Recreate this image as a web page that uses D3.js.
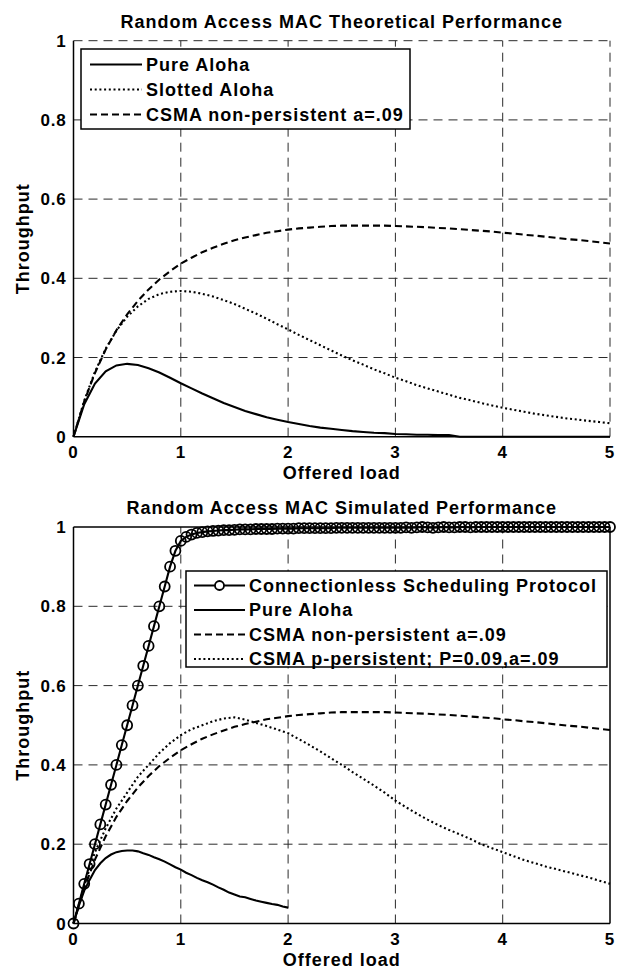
<!DOCTYPE html>
<html>
<head>
<meta charset="utf-8">
<script src="https://cdn.jsdelivr.net/npm/d3@7"></script>
<style>
  body { margin: 0; background: #fff; }
  text { font-family: "Liberation Sans", Arial, sans-serif; font-weight: bold; fill: #000; }
</style>
</head>
<body>
<script>
// ---- data ----
var loadStep10 = [0,0.1,0.2,0.3,0.4,0.5,0.6,0.7,0.8,0.9,1.0,1.1,1.2,1.3,1.4,1.5,1.6,1.7,1.8,1.9,2.0,
  2.1,2.2,2.3,2.4,2.5,2.6,2.7,2.8,2.9,3.0,3.1,3.2,3.3,3.4,3.5,3.6,3.7,3.8,3.9,4.0,
  4.1,4.2,4.3,4.4,4.5,4.6,4.7,4.8,4.9,5.0];

var pureAlohaTheory = [0,0.082,0.134,0.165,0.180,0.184,0.181,0.173,0.162,0.149,0.135,0.122,0.109,0.097,0.085,0.075,
  0.065,0.057,0.049,0.043,0.037,0.032,0.027,0.023,0.020,0.017,0.014,0.012,0.010,0.009,0.007,
  0.006,0.005,0.005,0.004,0.004,0,0,0,0,0,0,0,0,0,0,0,0,0,0,0];

var slottedAloha = [0,0.091,0.164,0.222,0.268,0.303,0.329,0.348,0.360,0.366,0.368,0.366,0.361,0.354,0.345,0.335,
  0.323,0.311,0.298,0.284,0.271,0.257,0.244,0.231,0.218,0.205,0.193,0.182,0.170,0.160,0.149,
  0.140,0.130,0.122,0.114,0.106,0.098,0.092,0.085,0.079,0.073,0.068,0.063,0.058,0.054,0.050,
  0.046,0.043,0.040,0.037,0.034];

var csmaNonPersistent = [0,0.089,0.161,0.220,0.269,0.309,0.343,0.372,0.397,0.418,0.437,0.452,0.466,0.477,0.487,0.496,
  0.503,0.509,0.515,0.519,0.523,0.526,0.528,0.530,0.532,0.533,0.533,0.533,0.533,0.533,0.532,
  0.531,0.530,0.529,0.527,0.526,0.524,0.522,0.520,0.518,0.515,0.513,0.510,0.508,0.505,0.502,
  0.499,0.497,0.494,0.491,0.488];

var csmaPPersistent = [0,0.095,0.180,0.240,0.290,0.330,0.370,0.400,0.430,0.455,0.475,0.490,0.500,0.510,0.517,0.520,
  0.514,0.506,0.498,0.489,0.480,0.465,0.450,0.434,0.417,0.400,0.382,0.365,0.348,0.330,0.310,
  0.293,0.277,0.262,0.248,0.236,0.225,0.213,0.200,0.190,0.180,0.170,0.160,0.152,0.144,0.137,
  0.130,0.123,0.116,0.108,0.100];

var loadStep05 = [0,0.05,0.1,0.15,0.2,0.25,0.3,0.35,0.4,0.45,0.5,0.55,0.6,0.65,0.7,0.75,0.8,0.85,0.9,0.95,
  1.0,1.05,1.1,1.15,1.2,1.25,1.3,1.35,1.4,1.45,1.5,1.55,1.6,1.65,1.7,1.75,1.8,1.85,1.9,1.95,
  2.0,2.05,2.1,2.15,2.2,2.25,2.3,2.35,2.4,2.45,2.5,2.55,2.6,2.65,2.7,2.75,2.8,2.85,2.9,2.95,
  3.0,3.05,3.1,3.15,3.2,3.25,3.3,3.35,3.4,3.45,3.5,3.55,3.6,3.65,3.7,3.75,3.8,3.85,3.9,3.95,
  4.0,4.05,4.1,4.15,4.2,4.25,4.3,4.35,4.4,4.45,4.5,4.55,4.6,4.65,4.7,4.75,4.8,4.85,4.9,4.95,5.0];

var cspThroughput = [0,0.05,0.1,0.15,0.2,0.25,0.3,0.35,0.4,0.45,0.5,0.55,0.6,0.65,0.7,0.75,0.8,0.85,0.9,0.94,
  0.965,0.975,0.981,0.985,0.987,0.989,0.990,0.991,0.992,0.992,0.993,0.994,0.994,0.994,0.995,0.995,0.995,0.995,0.996,0.996,
  0.996,0.996,0.997,0.997,0.997,0.997,0.997,0.997,0.997,0.998,0.998,0.998,0.998,0.998,0.998,0.998,0.998,0.998,0.998,0.998,
  0.998,0.998,0.999,0.998,0.999,1.0,0.999,0.998,0.999,1.0,0.999,0.999,1.0,1.0,0.999,1.0,1.0,1.0,1.0,1.0,
  1.0,1.0,1.0,1.0,1.0,1.0,1.0,1.0,1.0,1.0,1.0,1.0,1.0,1.0,1.0,1.0,1.0,1.0,1.0,1.0,1.0];

var loadAlohaSim = loadStep05.slice(0, 41);
var pureAlohaSim = [0,0.045,0.083,0.110,0.135,0.152,0.165,0.174,0.180,0.183,0.184,0.184,0.182,0.177,0.173,0.167,
  0.162,0.156,0.149,0.142,0.136,0.128,0.122,0.115,0.109,0.104,0.098,0.091,0.085,0.078,0.073,
  0.068,0.066,0.062,0.058,0.055,0.052,0.049,0.047,0.043,0.040];

var xTicks = [0,1,2,3,4,5];
var yTicks = [0,0.2,0.4,0.6,0.8,1];
var xLabel = "Offered load";
var yLabel = "Throughput";

// ---- layout ----
var svgWidth = 617, svgHeight = 969;
var plotLeft = 73.5, plotRight = 610;

var svg = d3.select("body").append("svg")
  .attr("width", svgWidth).attr("height", svgHeight);

var x = d3.scaleLinear().domain([0, 5]).range([plotLeft, plotRight]);

var styles = {
  solid:  { dash: null },
  dashed: { dash: "7,4" },
  dotted: { dash: "2,2.7" }
};

function drawPanel(p) {
  var y = d3.scaleLinear().domain([0, 1]).range([p.bottom, p.top]);
  var g = svg.append("g");

  // dashed grid (top panel has no box, so its grid closes the frame)
  var vx = p.box ? [1, 2, 3, 4] : [1, 2, 3, 4, 5];
  var hy = p.box ? [0.2, 0.4, 0.6, 0.8] : [0.2, 0.4, 0.6, 0.8, 1];
  g.selectAll(".vg").data(vx).enter().append("line")
    .attr("x1", d => x(d)).attr("x2", d => x(d))
    .attr("y1", p.bottom).attr("y2", p.top)
    .attr("stroke", "#2a2a2a").attr("stroke-dasharray", "9,6");
  g.selectAll(".hg").data(hy).enter().append("line")
    .attr("x1", plotLeft).attr("x2", plotRight)
    .attr("y1", d => y(d)).attr("y2", d => y(d))
    .attr("stroke", "#2a2a2a").attr("stroke-dasharray", "9,6");

  // series
  p.series.forEach(function(s) {
    var pts = s.x.map((v, i) => [v, s.y[i]]);
    g.append("path")
      .attr("d", d3.line().x(d => x(d[0])).y(d => y(d[1]))(pts))
      .attr("fill", "none").attr("stroke", "#000").attr("stroke-width", 2.1)
      .attr("stroke-dasharray", styles[s.style].dash);
    if (s.marker) {
      g.selectAll(null).data(pts).enter().append("circle")
        .attr("cx", d => x(d[0])).attr("cy", d => y(d[1])).attr("r", 5)
        .attr("fill", "none").attr("stroke", "#000").attr("stroke-width", 1.8);
    }
  });

  // axes
  g.append("line").attr("x1", plotLeft).attr("x2", plotLeft)
    .attr("y1", p.bottom).attr("y2", p.top).attr("stroke", "#000").attr("stroke-width", 1.5);
  g.append("line").attr("x1", plotLeft).attr("x2", plotRight)
    .attr("y1", p.bottom).attr("y2", p.bottom).attr("stroke", "#000").attr("stroke-width", 1.5);
  if (p.box) {
    g.append("line").attr("x1", plotLeft).attr("x2", plotRight)
      .attr("y1", p.top).attr("y2", p.top).attr("stroke", "#000").attr("stroke-width", 1.5);
    g.append("line").attr("x1", plotRight).attr("x2", plotRight)
      .attr("y1", p.bottom).attr("y2", p.top).attr("stroke", "#000").attr("stroke-width", 1.5);
  }

  // tick labels
  g.selectAll(".xt").data(xTicks).enter().append("text")
    .attr("x", d => x(d)).attr("y", p.bottom + 21.5)
    .attr("text-anchor", "middle").style("font-size", "17px").style("letter-spacing", "0.8px")
    .text(d => d);
  g.selectAll(".yt").data(yTicks).enter().append("text")
    .attr("x", plotLeft - 7).attr("y", d => y(d) + 6)
    .attr("text-anchor", "end").style("font-size", "17px").style("letter-spacing", "0.8px")
    .text(d => d);

  // titles
  g.append("text").attr("x", (plotLeft + plotRight) / 2).attr("y", p.top - 13)
    .attr("text-anchor", "middle").style("font-size", "18px").style("letter-spacing", "1px")
    .text(p.title);
  g.append("text").attr("x", (plotLeft + plotRight) / 2).attr("y", p.bottom + 42)
    .attr("text-anchor", "middle").style("font-size", "18px").style("letter-spacing", "1px")
    .text(xLabel);
  g.append("text")
    .attr("transform", "translate(29," + ((p.top + p.bottom) / 2) + ") rotate(-90)")
    .attr("text-anchor", "middle").style("font-size", "18px").style("letter-spacing", "1px")
    .text(yLabel);

  // legend
  var L = p.legend;
  var lg = g.append("g");
  lg.append("rect").attr("x", L.x).attr("y", L.y).attr("width", L.w).attr("height", L.h)
    .attr("fill", "#fff").attr("stroke", "#000").attr("stroke-width", 1.5);
  p.series.forEach(function(s, i) {
    var cy = L.y + L.first + i * L.step;
    lg.append("line").attr("x1", L.x + L.lineFrom).attr("x2", L.x + L.lineTo)
      .attr("y1", cy).attr("y2", cy).attr("stroke", "#000").attr("stroke-width", 2.1)
      .attr("stroke-dasharray", styles[s.style].dash);
    if (s.marker) {
      lg.append("circle").attr("cx", L.x + (L.lineFrom + L.lineTo) / 2).attr("cy", cy).attr("r", 4.5)
        .attr("fill", "#fff").attr("stroke", "#000").attr("stroke-width", 1.8);
    }
    lg.append("text").attr("x", L.x + L.textAt).attr("y", cy + 6.4)
      .style("font-size", "18px").style("letter-spacing", "1px").text(s.name);
  });
}

drawPanel({
  top: 40.7, bottom: 436.7, box: false,
  title: "Random Access MAC Theoretical Performance",
  series: [
    { name: "Pure Aloha", x: loadStep10, y: pureAlohaTheory, style: "solid" },
    { name: "Slotted Aloha", x: loadStep10, y: slottedAloha, style: "dotted" },
    { name: "CSMA non-persistent a=.09", x: loadStep10, y: csmaNonPersistent, style: "dashed" }
  ],
  legend: { x: 81, y: 49, w: 329, h: 80, first: 15.5, step: 25, lineFrom: 9, lineTo: 61, textAt: 65 }
});

drawPanel({
  top: 527, bottom: 923.5, box: true,
  title: "Random Access MAC Simulated Performance",
  series: [
    { name: "Connectionless Scheduling Protocol", x: loadStep05, y: cspThroughput, style: "solid", marker: true },
    { name: "Pure Aloha", x: loadAlohaSim, y: pureAlohaSim, style: "solid" },
    { name: "CSMA non-persistent a=.09", x: loadStep10, y: csmaNonPersistent, style: "dashed" },
    { name: "CSMA p-persistent; P=0.09,a=.09", x: loadStep10, y: csmaPPersistent, style: "dotted" }
  ],
  legend: { x: 186, y: 571, w: 421, h: 96, first: 14.5, step: 24.5, lineFrom: 8, lineTo: 59, textAt: 63 }
});
</script>
</body>
</html>
